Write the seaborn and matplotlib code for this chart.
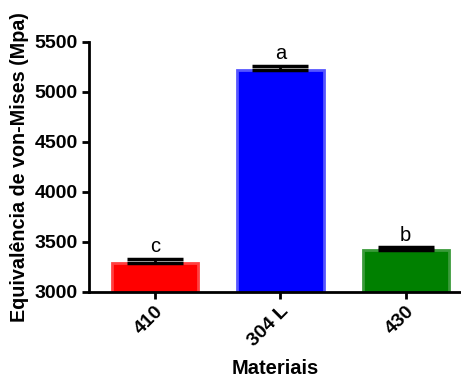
import matplotlib
matplotlib.use("Agg")
import matplotlib.pyplot as plt
import seaborn as sns
import pandas as pd

materials = ["410", "304 L", "430"]
means = [3292, 5222, 3415]
errors = [40, 40, 33]
letters = ["c", "a", "b"]
colors = ["#ff0000", "#0000ff", "#008000"]
edges = ["#ff4040", "#5555ff", "#3a9a3a"]

sns.set_style("ticks")
plt.rcParams['font.family'] = ['Liberation Sans', 'DejaVu Sans']
plt.rcParams['text.color'] = 'black'
plt.rcParams['axes.labelcolor'] = 'black'
plt.rcParams['xtick.color'] = 'black'
plt.rcParams['ytick.color'] = 'black'
plt.rcParams['axes.edgecolor'] = 'black'

df = pd.DataFrame({"Materiais": materials, "val": means})

fig = plt.figure(figsize=(4.61, 3.85), dpi=100)
ax = fig.add_axes([0.193, 0.2416, 0.807, 0.6494])

sns.barplot(data=df, x="Materiais", y="val", hue="Materiais", palette=colors,
            saturation=1, width=0.69, ax=ax, legend=False, errorbar=None, zorder=2)
for p, ec in zip(ax.patches, edges):
    p.set_edgecolor(ec)
    p.set_linewidth(2)

ax.errorbar(range(len(materials)), means, yerr=[[0]*3, errors], fmt="none",
            ecolor="black", elinewidth=2, capsize=20, capthick=2.5, zorder=3)
for i, (m, e, l) in enumerate(zip(means, errors, letters)):
    ax.text(i, m + e + 25, l, ha="center", va="bottom", fontsize=14.5)

ax.set_xlim(-0.526, 2.44)
ax.set_ylim(3000, 5500)
ax.set_yticks([3000, 3500, 4000, 4500, 5000, 5500])
ax.set_xlabel("Materiais", fontsize=14.5, fontweight="bold", labelpad=6)
ax.set_ylabel("Equivalência de von-Mises (Mpa)", fontsize=14.2, fontweight="bold", labelpad=4)
for s in ["top", "right"]:
    ax.spines[s].set_visible(False)
for s in ["left", "bottom"]:
    ax.spines[s].set_linewidth(2)
ax.tick_params(width=2, length=5, labelsize=14, pad=3)
for t in ax.get_xticklabels() + ax.get_yticklabels():
    t.set_fontweight("bold")
plt.setp(ax.get_xticklabels(), rotation=45, ha="right", rotation_mode="anchor")

fig.savefig("out.png", dpi=100)
